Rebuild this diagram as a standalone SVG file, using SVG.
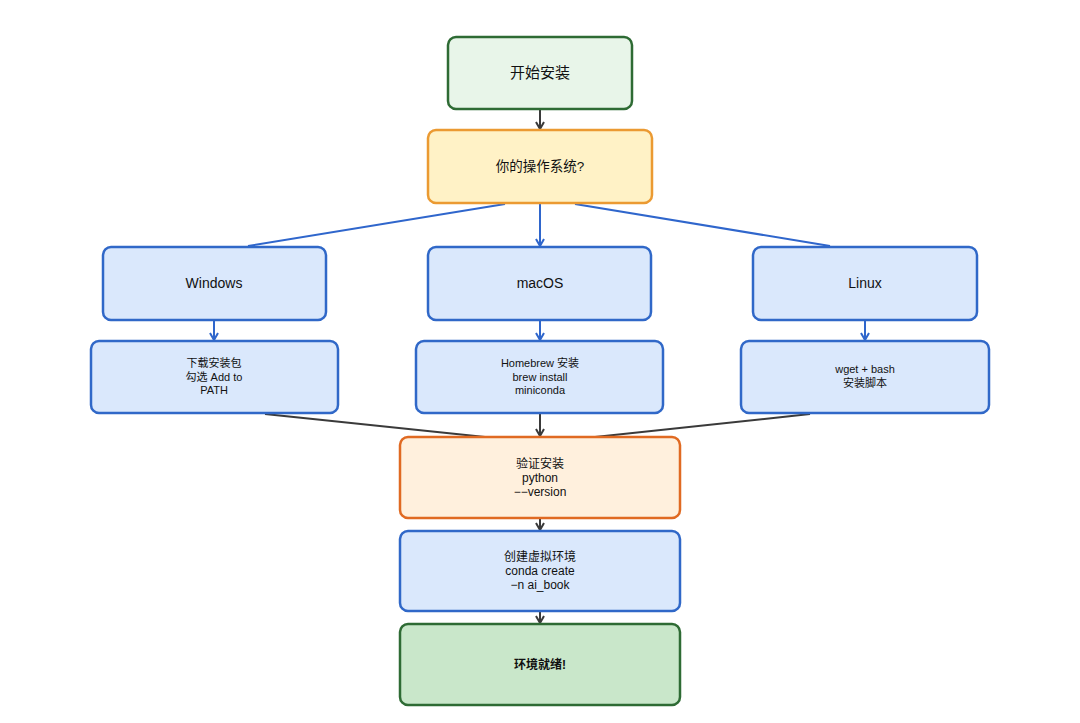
<svg xmlns="http://www.w3.org/2000/svg" width="1080" height="723" viewBox="0 0 1080 723">
<defs>
<style>
text{font-family:"Liberation Sans","Noto Sans CJK SC",sans-serif;text-anchor:middle;fill:#111}
.b{stroke-width:2.5}
.blue{fill:#dae8fc;stroke:#3068c8}
.c{stroke-width:2;fill:none}
.dk{stroke:#3a3a3a}
.bl{stroke:#2f66cc}
</style>
<marker id="ad" markerWidth="10" markerHeight="10" refX="8" refY="5" orient="auto" markerUnits="userSpaceOnUse"><path d="M1,1 L8,5 L1,9" fill="none" stroke="#3a3a3a" stroke-width="2"/></marker>
<marker id="ab" markerWidth="10" markerHeight="10" refX="8" refY="5" orient="auto" markerUnits="userSpaceOnUse"><path d="M1,1 L8,5 L1,9" fill="none" stroke="#2f66cc" stroke-width="2"/></marker>
</defs>
<rect width="1080" height="723" fill="#fff"/>
<g id="connectors">
<line class="c dk" x1="540" y1="110" x2="540" y2="129" marker-end="url(#ad)"/>
<line class="c bl" x1="505" y1="204" x2="248" y2="246"/>
<line class="c bl" x1="540" y1="204" x2="540" y2="246" marker-end="url(#ab)"/>
<line class="c bl" x1="575" y1="204" x2="830" y2="246"/>
<line class="c bl" x1="214" y1="321" x2="214" y2="340" marker-end="url(#ab)"/>
<line class="c bl" x1="540" y1="321" x2="540" y2="340" marker-end="url(#ab)"/>
<line class="c bl" x1="865" y1="321" x2="865" y2="340" marker-end="url(#ab)"/>
<line class="c dk" x1="265" y1="414" x2="485" y2="437"/>
<line class="c dk" x1="540" y1="414" x2="540" y2="436" marker-end="url(#ad)"/>
<line class="c dk" x1="810" y1="414" x2="595" y2="437"/>
<line class="c dk" x1="540" y1="519" x2="540" y2="530" marker-end="url(#ad)"/>
<line class="c dk" x1="540" y1="612" x2="540" y2="623" marker-end="url(#ad)"/>
</g>
<g id="start">
<rect class="b" x="448" y="37" width="184" height="72" rx="8" fill="#e8f5e9" stroke="#2e6b34"/>
<text x="540" y="78" font-size="15">开始安装</text>
</g>
<g id="os">
<rect class="b" x="428" y="130" width="224" height="73" rx="8" fill="#fff2c6" stroke="#eb9a32"/>
<text x="540" y="171" font-size="13.5">你的操作系统?</text>
</g>
<g id="windows">
<rect class="b blue" x="103" y="247" width="223" height="73" rx="8"/>
<text x="214" y="288" font-size="14">Windows</text>
</g>
<g id="macos">
<rect class="b blue" x="428" y="247" width="223" height="73" rx="8"/>
<text x="540" y="288" font-size="14">macOS</text>
</g>
<g id="linux">
<rect class="b blue" x="753" y="247" width="224" height="73" rx="8"/>
<text x="865" y="288" font-size="14">Linux</text>
</g>
<g id="win-install">
<rect class="b blue" x="91" y="341" width="247" height="72" rx="8"/>
<text font-size="11"><tspan x="214" y="367">下载安装包</tspan><tspan x="214" y="381">勾选 Add to</tspan><tspan x="214" y="394">PATH</tspan></text>
</g>
<g id="mac-install">
<rect class="b blue" x="416" y="341" width="247" height="72" rx="8"/>
<text font-size="11"><tspan x="540" y="367">Homebrew 安装</tspan><tspan x="540" y="381">brew install</tspan><tspan x="540" y="394">miniconda</tspan></text>
</g>
<g id="linux-install">
<rect class="b blue" x="741" y="341" width="248" height="72" rx="8"/>
<text font-size="11"><tspan x="865" y="373">wget + bash</tspan><tspan x="865" y="387">安装脚本</tspan></text>
</g>
<g id="verify">
<rect class="b" x="400" y="437" width="280" height="81" rx="8" fill="#fff0dd" stroke="#e06a22"/>
<text font-size="12"><tspan x="540" y="468">验证安装</tspan><tspan x="540" y="482">python</tspan><tspan x="540" y="496">−−version</tspan></text>
</g>
<g id="create">
<rect class="b blue" x="400" y="531" width="280" height="80" rx="8"/>
<text font-size="12"><tspan x="540" y="561">创建虚拟环境</tspan><tspan x="540" y="575">conda create</tspan><tspan x="540" y="589">−n ai_book</tspan></text>
</g>
<g id="ready">
<rect class="b" x="400" y="624" width="280" height="81" rx="8" fill="#c9e7ca" stroke="#2e6b34"/>
<text x="540" y="669" font-size="12" font-weight="bold">环境就绪!</text>
</g>
</svg>
